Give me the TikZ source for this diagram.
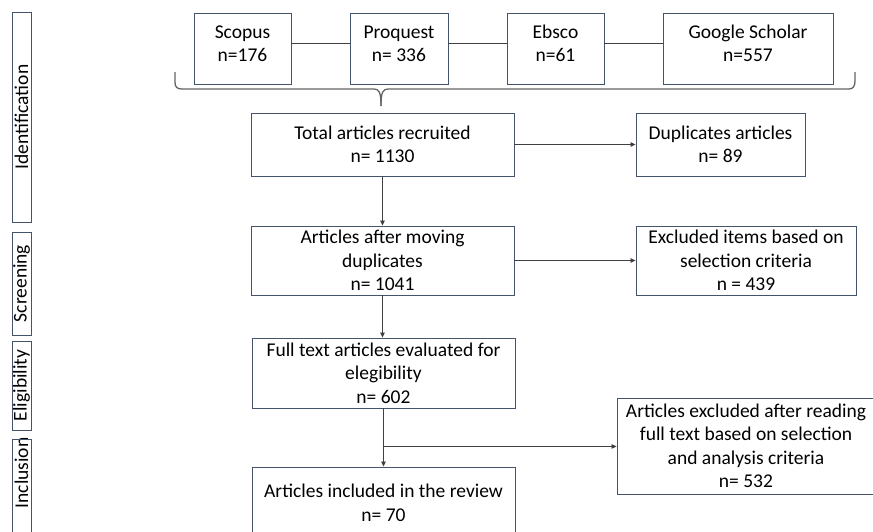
\documentclass[tikz,border=0pt]{standalone}
\usepackage{fontspec}
\setmainfont{Carlito}
\usetikzlibrary{arrows.meta}
\definecolor{boxc}{RGB}{68,84,106}
\definecolor{linec}{RGB}{64,64,64}
\definecolor{bracec}{RGB}{100,100,100}
\begin{document}
\begin{tikzpicture}[x=1pt,y=-1pt,
  font=\fontsize{19.5}{23.5}\selectfont,
  box/.style={draw=boxc, line width=0.9pt, align=center, inner sep=0pt, text=black},
  mbox/.style 2 args={box, minimum width=#1, minimum height=#2},
  side/.style={box, rotate=90, minimum width=#1, minimum height=19},
  topbox/.style 2 args={mbox={#1}{71}, label={[align=center, yshift=3pt]center:#2}},
  conn/.style={draw=linec, line width=0.8pt},
  arr/.style={conn, -{Triangle[length=5pt,width=4.5pt]}},
  brace/.style={draw=bracec, line width=1.3pt}]
\useasboundingbox (0,0) rectangle (873,531);
\clip (0,0) rectangle (873,531);

% phase labels
\node[side=210] (ident) at (21.5,117) {Identification};
\node[side=103] (screen) at (21.5,283.5) {Screening};
\node[side=89] (elig) at (21.5,385.5) {Eligibility};
\node[box, draw=none, rotate=90] (incl) at (21.5,473) {Inclusion};
\draw[draw=boxc, line width=0.9pt] (12,560) |- (31,439) -- (31,560);

% databases
\node[topbox={97}{\strut Scopus\\\strut n=176}] (scopus) at (242.5,48.5) {};
\node[topbox={98}{\strut Proquest\\\strut n= 336}] (proquest) at (399,48.5) {};
\node[topbox={97}{\strut Ebsco\\\strut n=61}] (ebsco) at (555.5,48.5) {};
\node[topbox={170}{\strut Google Scholar\\\strut n=557}] (google) at (748,48.5) {};
\draw[conn] ([yshift=5.5pt]scopus.east) -- ([yshift=5.5pt]proquest.west);
\draw[conn] ([yshift=5.5pt]proquest.east) -- ([yshift=5.5pt]ebsco.west);
\draw[conn] ([yshift=5.5pt]ebsco.east) -- ([yshift=5.5pt]google.west);

% brace
\coordinate (bt) at (381,106);
\draw[brace] (175,72) -- (175,82) .. controls (175,87) and (177,89) .. (182,89)
  -- (374,89) .. controls (379,89) and (381,92) .. (bt);
\draw[brace] (bt) .. controls (381,92) and (383,89) .. (388,89)
  -- (849,89) .. controls (853,89) and (855,86) .. (855,81) -- (855,72);

% main flow
\node[mbox={263}{63}] (total) at (382.5,144.5) {Total articles recruited\\n= 1130};
\node[mbox={169}{63}] (dup) at (720.5,144.5) {Duplicates articles\\n= 89};
\node[mbox={263}{69}] (after) at (382.5,260.5) {Articles after moving\\duplicates\\n= 1041};
\node[mbox={220}{69}] (exc1) at (746,260.5) {Excluded items based on\\selection criteria\\n = 439};
\node[mbox={263}{70}] (full) at (383.5,373) {Full text articles evaluated for\\elegibility\\n= 602};
\node[mbox={258}{96}] (exc2) at (746,446) {Articles excluded after reading\\full text based on selection\\and analysis criteria\\n= 532};
\node[mbox={263}{72}] (incl2) at (383.5,503) {Articles included in the review\\n= 70};

\draw[arr] (total) -- (dup);
\draw[arr] (total) -- (after);
\draw[arr] (after) -- (exc1);
\draw[arr] (after.south) -- (after.south |- full.north);
\draw[arr] (full) -- (incl2);
\path (full.south) ++(0,38) coordinate (br);
\draw[arr] (br) -- (br -| exc2.west);
\end{tikzpicture}
\end{document}
